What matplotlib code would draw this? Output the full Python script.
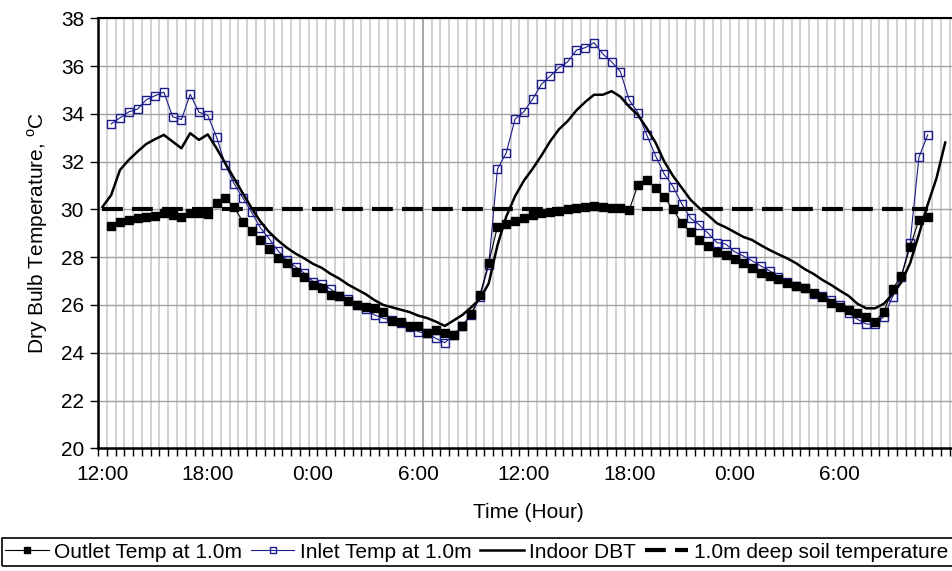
import numpy as np
import matplotlib
matplotlib.use("Agg")
import matplotlib.pyplot as plt
from matplotlib.patches import Rectangle

plt.rcParams['font.family'] = ['Liberation Sans', 'DejaVu Sans']

# half-hour steps starting at 12:00 (step 0)
tick_labels = ['12:00', '18:00', '0:00', '6:00', '12:00', '18:00', '0:00', '6:00']
tick_steps = [0, 12, 24, 36, 48, 60, 72, 84]

outlet_temp = [
    29.31, 29.49, 29.56, 29.63, 29.67, 29.72, 29.84, 29.77, 29.70, 29.86, 29.86, 29.81,
    30.26, 30.47, 30.09, 29.49, 29.11, 28.72, 28.34, 27.95, 27.74, 27.39, 27.16, 26.84,
    26.70, 26.42, 26.38, 26.17, 26.00, 25.90, 25.86, 25.72, 25.33, 25.28, 25.12, 25.12,
    24.84, 24.95, 24.81, 24.74, 25.12, 25.62, 26.42, 27.77, 29.28, 29.39, 29.52, 29.63,
    29.77, 29.84, 29.90, 29.95, 30.00, 30.05, 30.09, 30.14, 30.11, 30.05, 30.05, 29.98,
    31.02, 31.23, 30.91, 30.51, 30.00, 29.42, 29.04, 28.72, 28.47, 28.23, 28.09, 27.91,
    27.74, 27.54, 27.33, 27.21, 27.07, 26.91, 26.79, 26.70, 26.51, 26.32, 26.07, 25.90,
    25.79, 25.65, 25.48, 25.30, 25.72, 26.66, 27.21, 28.44, 29.56, 29.67,
]
inlet_temp = [
    33.58, 33.83, 34.08, 34.20, 34.59, 34.76, 34.91, 33.88, 33.76, 34.82, 34.07, 33.94,
    33.03, 31.87, 31.08, 30.48, 29.88, 29.23, 28.77, 28.27, 27.88, 27.60, 27.33, 26.98,
    26.88, 26.66, 26.38, 26.24, 26.00, 25.82, 25.58, 25.44, 25.37, 25.23, 25.09, 24.88,
    24.81, 24.60, 24.42, 24.74, 25.12, 25.58, 26.32, 27.67, 31.69, 32.37, 33.78, 34.09,
    34.61, 35.24, 35.58, 35.93, 36.18, 36.67, 36.77, 36.98, 36.51, 36.18, 35.77, 34.58,
    34.05, 33.12, 32.25, 31.48, 30.95, 30.23, 29.63, 29.35, 29.00, 28.61, 28.55, 28.23,
    28.05, 27.85, 27.63, 27.43, 27.18, 26.97, 26.79, 26.70, 26.46, 26.38, 26.21, 26.00,
    25.65, 25.40, 25.20, 25.20, 25.51, 26.34, 27.18, 28.61, 32.18, 33.12,
]
indoor_dbt = [
    30.10, 30.60, 31.65, 32.07, 32.42, 32.74, 32.94, 33.12, 32.84, 32.56, 33.19, 32.91, 33.14,
    32.56, 31.93, 31.30, 30.67, 30.05, 29.49, 29.05, 28.70, 28.40, 28.15, 27.95, 27.72,
    27.55, 27.30, 27.10, 26.85, 26.65, 26.45, 26.20, 26.00, 25.90, 25.80, 25.70, 25.55,
    25.45, 25.30, 25.12, 25.35, 25.58, 25.90, 26.25, 26.90, 28.50, 29.70, 30.55, 31.20,
    31.70, 32.25, 32.85, 33.35, 33.70, 34.15, 34.50, 34.80, 34.80, 34.95, 34.72, 34.30,
    33.95, 33.40, 32.80, 32.00, 31.40, 30.90, 30.40, 30.05, 29.75, 29.42, 29.25, 29.05,
    28.85, 28.72, 28.50, 28.30, 28.12, 27.95, 27.75, 27.50, 27.30, 27.05, 26.84, 26.60,
    26.38, 26.05, 25.86, 25.86, 26.05, 26.45, 26.95, 27.75, 28.95, 30.20, 31.30, 32.80,
]
soil_steps = [0, 94]
soil_temp = [30.0, 30.0]

x_meas = np.arange(1, len(outlet_temp) + 1)
x_indoor = np.arange(len(indoor_dbt))

fig = plt.figure(figsize=(9.52, 5.71), dpi=100)
# axes runs a little past the right edge of the picture, as in the original
ax = fig.add_axes([98 / 952, 1 - 448.3 / 571, 860.4 / 952, 430 / 571])

navy = '#1c1c8a'
l_in, = ax.plot(x_meas, inlet_temp, color=navy, lw=0.8, marker='s', ms=5.8,
                mfc='none', mec=navy, mew=1.0, label='Inlet Temp at 1.0m', zorder=3)
l_out, = ax.plot(x_meas, outlet_temp, color='black', lw=0.8, marker='s', ms=5.8,
                 mfc='black', mec='black', label='Outlet Temp at 1.0m', zorder=4)
l_dbt, = ax.plot(x_indoor, indoor_dbt, color='black', lw=1.8, label='Indoor DBT', zorder=5)
l_soil, = ax.plot(soil_steps, soil_temp, color='black', lw=3, dashes=(5, 2.2),
                  label='1.0m deep soil temperature', zorder=5)

ax.set_xlim(-0.5, 97.5)
ax.set_ylim(20, 38)
ax.set_yticks(np.arange(20, 39, 2))

ax.set_xticks(np.arange(-0.5, 98, 1))
ax.set_xticks(tick_steps, minor=True)
ax.set_xticklabels(tick_labels, minor=True)
ax.tick_params(axis='x', which='major', length=6, width=1, labelbottom=False)
ax.tick_params(axis='x', which='minor', length=0, pad=12, labelsize=15)
ax.tick_params(axis='y', length=6, width=1, pad=4, labelsize=15)

ax.grid(axis='x', which='major', color='#c8c8c8', lw=1.2)
ax.grid(axis='y', color='#a0a0a0', lw=1.0)
ax.axvline(36.5, color='#a0a0a0', lw=1.2, zorder=1)
ax.set_axisbelow(True)

for s in ['left', 'bottom']:
    ax.spines[s].set_linewidth(1.8)
ax.spines['top'].set_linewidth(1.5)

ax.set_xlabel('Time (Hour)', fontsize=15, labelpad=14)
ax.set_ylabel(r'Dry Bulb Temperature, $^{\mathregular{o}}$C', fontsize=15, labelpad=8)

# legend box: its right side runs off the picture like the original
fig.patches.append(Rectangle((2 / 952, 1 - 566 / 571), 970 / 952, 28 / 571,
                             transform=fig.transFigure, fill=False,
                             edgecolor='black', lw=1.2))
leg = fig.legend([l_out, l_in, l_dbt, l_soil],
                 [h.get_label() for h in [l_out, l_in, l_dbt, l_soil]],
                 loc='center left', bbox_to_anchor=(5 / 952, 1 - 552 / 571), ncol=4,
                 fontsize=15, frameon=False,
                 handlelength=2.1, handletextpad=0.25, columnspacing=0.42,
                 borderpad=0, borderaxespad=0, markerscale=0.75)

fig.savefig('out.png', dpi=100)
